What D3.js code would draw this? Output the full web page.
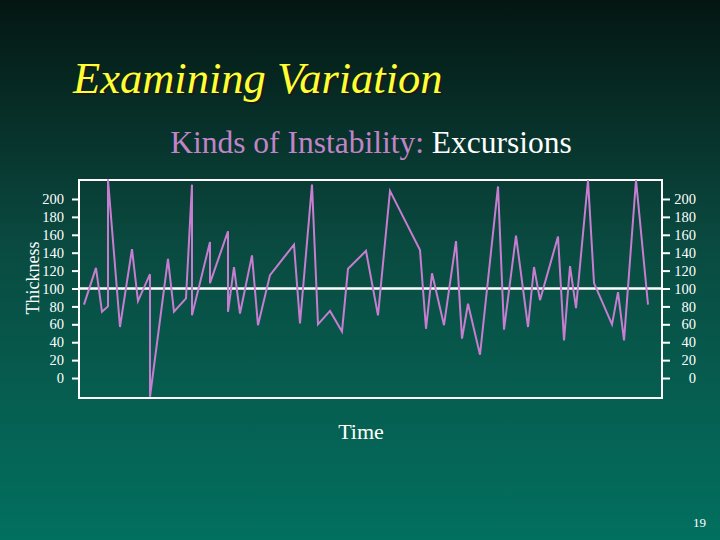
<!DOCTYPE html>
<html>
<head>
<meta charset="utf-8">
<title>Examining Variation</title>
<script src="https://d3js.org/d3.v7.min.js"></script>
<style>
  body { margin: 0; background: #000; }
  svg { display: block; }
</style>
</head>
<body>
<svg width="720" height="540"></svg>
<script>

// ----- data -----
var timeIdx = [0, 2, 3, 4, 4, 6, 8, 9, 11, 11, 14, 15, 17, 18, 18, 21, 21, 24, 24, 25,
               26, 28, 29, 31, 35, 36, 38, 39, 41, 43, 44, 47, 49, 51, 56, 57, 58, 60, 62, 63,
               64, 66, 69, 70, 72, 74, 75, 76, 79, 80, 81, 82, 84, 85, 88, 89, 90, 92, 94];
var thickness = [82, 123, 74, 80, 222, 57, 144, 86, 116, -21, 133, 74, 89, 216, 70, 152, 106, 164, 74, 124,
                 72, 137, 59, 115, 149, 61, 216, 60, 75, 52, 122, 142, 70, 209, 143, 55, 117, 59, 153, 44,
                 83, 26, 214, 54, 159, 57, 124, 87, 158, 42, 125, 78, 221, 106, 60, 96, 42, 221, 82];
var yTicks = [0, 20, 40, 60, 80, 100, 120, 140, 160, 180, 200];
var centerValue = 100;

var serif = "'Liberation Serif', 'Times New Roman', serif";
var svg = d3.select("svg");

// ----- background gradient -----
var defs = svg.append("defs");
var grad = defs.append("linearGradient")
    .attr("id", "bg").attr("x1", 0).attr("y1", 0).attr("x2", 0).attr("y2", 1);
grad.append("stop").attr("offset", "0%").attr("stop-color", "#041612");
grad.append("stop").attr("offset", "45%").attr("stop-color", "#0a4a40");
grad.append("stop").attr("offset", "100%").attr("stop-color", "#02705f");

svg.append("rect").attr("width", 720).attr("height", 540).attr("fill", "url(#bg)");

// ----- titles -----
svg.append("text")
    .attr("x", 75).attr("y", 95)
    .attr("font-family", serif)
    .attr("font-size", 44.5).attr("font-style", "italic")
    .attr("fill", "#1a1a1a")
    .text("Examining Variation");
svg.append("text")
    .attr("x", 73).attr("y", 93)
    .attr("font-family", serif)
    .attr("font-size", 44.5).attr("font-style", "italic")
    .attr("fill", "#ffff33")
    .text("Examining Variation");

var sub = svg.append("text")
    .attr("x", 371).attr("y", 153)
    .attr("text-anchor", "middle")
    .attr("font-family", serif)
    .attr("font-size", 31.5);
sub.append("tspan").attr("fill", "#c184c6").text("Kinds of Instability: ");
sub.append("tspan").attr("fill", "#ffffff").text("Excursions");

// ----- plot area -----
var plotL = 79, plotR = 662, plotT = 180, plotB = 398;

var x = d3.scaleLinear().domain([-0.83, 96.33]).range([plotL, plotR]);
var y = d3.scaleLinear().domain([-22.3, 221.2]).range([plotB, plotT]);

var axisL = svg.append("g")
    .attr("transform", "translate(" + plotL + ",0)")
    .call(d3.axisLeft(y).tickValues(yTicks).tickSize(7).tickPadding(8));
var axisR = svg.append("g")
    .attr("transform", "translate(" + plotR + ",0)")
    .call(d3.axisRight(y).tickValues(yTicks).tickSize(8).tickPadding(0));

[axisL, axisR].forEach(function(a) {
  a.select(".domain").remove();
  a.selectAll(".tick line").attr("stroke", "#fff").attr("stroke-width", 2);
  a.selectAll(".tick text")
      .attr("fill", "#fff")
      .attr("font-family", serif)
      .attr("font-size", 14.5);
});
axisR.selectAll(".tick text").attr("text-anchor", "end").attr("x", 34);

// frame
svg.append("rect")
    .attr("x", plotL).attr("y", plotT)
    .attr("width", plotR - plotL).attr("height", plotB - plotT)
    .attr("fill", "none").attr("stroke", "#fff").attr("stroke-width", 2);

// center line
svg.append("line")
    .attr("x1", plotL).attr("x2", plotR)
    .attr("y1", y(centerValue)).attr("y2", y(centerValue))
    .attr("stroke", "#fff").attr("stroke-width", 2.5);

// data line
var line = d3.line()
    .x(function(d, i) { return x(timeIdx[i]); })
    .y(function(d) { return y(d); });

svg.append("path")
    .datum(thickness)
    .attr("d", line)
    .attr("fill", "none")
    .attr("stroke", "#c77dd0")
    .attr("stroke-width", 2)
    .attr("stroke-linejoin", "miter");

// axis titles
svg.append("text")
    .attr("transform", "translate(39,278) rotate(-90)")
    .attr("text-anchor", "middle")
    .attr("font-family", serif)
    .attr("font-size", 18)
    .attr("fill", "#fff")
    .text("Thickness");

svg.append("text")
    .attr("x", 361).attr("y", 439)
    .attr("text-anchor", "middle")
    .attr("font-family", serif)
    .attr("font-size", 22)
    .attr("fill", "#fff")
    .text("Time");

svg.append("text")
    .attr("x", 706).attr("y", 527)
    .attr("text-anchor", "end")
    .attr("font-family", serif)
    .attr("font-size", 13)
    .attr("fill", "#fff")
    .text("19");

</script>
</body>
</html>
